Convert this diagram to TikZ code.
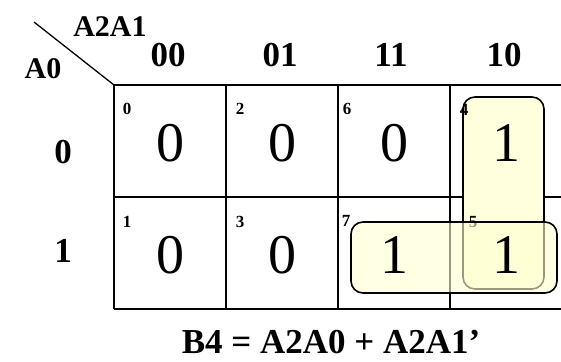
\documentclass[tikz,border=0pt]{standalone}
\usepackage{fontspec}
\setmainfont{Liberation Serif}
\begin{document}
\begin{tikzpicture}[x=1pt,y=-1pt,
  gridline/.style={line width=1.8pt,black},
  hdr/.style={inner sep=0pt,font=\fontsize{35}{40}\selectfont\bfseries},
  varlab/.style={inner sep=0pt,font=\fontsize{30}{34}\selectfont\bfseries},
  idx/.style={inner sep=0pt,font=\fontsize{17}{20}\selectfont\bfseries},
  val/.style={inner sep=0pt,font=\fontsize{56}{60}\selectfont},
  grp/.style={rounded corners=12pt,line width=1.6pt,draw=black}]
\useasboundingbox (0,0) rectangle (561,361);
\clip (0,0) rectangle (561,361);
% corner
\coordinate (dstart) at (34,22);
\coordinate (dend) at (114,85);
\draw[line width=1.3pt] (dstart) -- (dend);
\node[varlab] (a2a1) at (110,27) {A2A1};
\node[varlab] (a0) at (43,69) {A0};
% headers
\node[hdr] (c00) at (168,55) {00};
\node[hdr] (c01) at (280,55) {01};
\node[hdr] (c11) at (391,55) {11};
\node[hdr] (c10) at (504,55) {10};
\node[hdr] (r0) at (63,152) {0};
\node[hdr] (r1) at (63,251) {1};
% grid
\foreach \yy in {85,197,309} \draw[gridline] (114,\yy) -- (565,\yy);
\foreach \xx in {114,226,338,450} \draw[gridline] (\xx,85) -- (\xx,309);
% vertical group
\fill[grp,fill={rgb,255:red,255;green,255;blue,222}] (463,97) rectangle (544,289);
% indices
\node[idx] (i0) at (127,109) {0};
\node[idx] (i2) at (240,109) {2};
\node[idx] (i6) at (347,109) {6};
\node[idx] (i4) at (464,110) {4};
\node[idx] (i1) at (127,222) {1};
\node[idx] (i3) at (240,222) {3};
\node[idx] (i7) at (346,221) {7};
\node[idx] (i5) at (473,222) {5};
% horizontal group
\draw[grp,fill={rgb,255:red,255;green,255;blue,210},fill opacity=0.6] (351,222) rectangle (557,293);
% values
\node[val] (v0) at (170,143) {0};
\node[val] (v2) at (282,143) {0};
\node[val] (v6) at (394,143) {0};
\node[val] (v4) at (506,143) {1};
\node[val] (v1) at (170,255) {0};
\node[val] (v3) at (282,255) {0};
\node[val] (v7) at (394,255) {1};
\node[val] (v5) at (506,255) {1};
% equation
\node[hdr] (eq) at (331,342) {B4 = A2A0 + A2A1’};
\end{tikzpicture}
\end{document}
